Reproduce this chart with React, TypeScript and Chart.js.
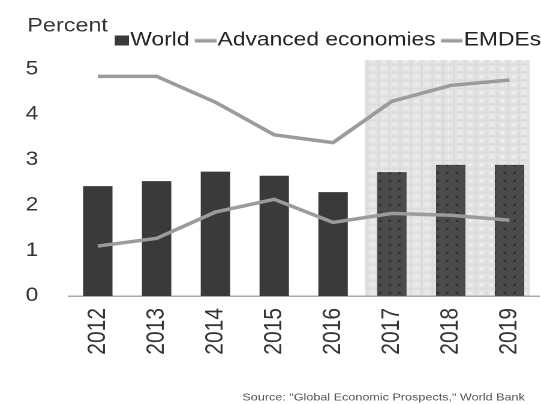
import React, { useEffect, useRef } from "react";
import { Chart, registerables } from "chart.js";

Chart.register(...registerables);

const years = ["2012", "2013", "2014", "2015", "2016", "2017", "2018", "2019"];
const worldValues = [2.42, 2.53, 2.74, 2.65, 2.29, 2.73, 2.89, 2.89];
const advancedValues = [1.1, 1.27, 1.85, 2.13, 1.62, 1.82, 1.78, 1.67];
const emdeValues = [4.84, 4.84, 4.27, 3.55, 3.38, 4.29, 4.64, 4.76];
const forecastStartIndex = 5;
const yTicks = [0, 1, 2, 3, 4, 5];

const FONT = "'Liberation Sans', Arial, sans-serif";
const STRETCH = 541 / 451;
const LINE_GRAY = "#9b9b9b";
const BAR_DARK = "#3a3a3a";

function makeTile(w: number, h: number, draw: (c: CanvasRenderingContext2D) => void) {
  const cv = document.createElement("canvas");
  cv.width = w;
  cv.height = h;
  const c = cv.getContext("2d")!;
  draw(c);
  return cv;
}

export default function App() {
  const ref = useRef<HTMLCanvasElement | null>(null);

  useEffect(() => {
    if (!ref.current) return;
    const ctx = ref.current.getContext("2d")!;

    const bgTile = makeTile(9, 8, (c) => {
      c.fillStyle = "#e4e4e4";
      c.fillRect(0, 0, 9, 8);
      c.fillStyle = "#d8d8d8";
      c.fillRect(0, 0, 9, 1);
      c.fillRect(0, 0, 1, 8);
      c.fillStyle = "#f6f6f6";
      c.fillRect(4, 4, 2, 2);
    });
    const bgPattern = ctx.createPattern(bgTile, "repeat")!;

    const barTile = makeTile(8, 8, (c) => {
      c.fillStyle = "#4b4b4b";
      c.fillRect(0, 0, 8, 8);
      c.fillStyle = "#2c2c2c";
      c.fillRect(4, 4, 2, 2);
    });
    const barPattern = ctx.createPattern(barTile, "repeat")!;

    // legend markers: image centred at boxWidth/2, marker pushed to the right end so it hugs the text
    const rectMarker = makeTile(31, 10, (c) => {
      c.fillStyle = BAR_DARK;
      c.fillRect(19, 0, 12, 10);
    });
    const lineMarker = makeTile(31, 10, (c) => {
      c.fillStyle = LINE_GRAY;
      c.fillRect(13, 3.5, 18, 3.5);
    });

    const barColors = worldValues.map((_, i) => (i >= forecastStartIndex ? barPattern : BAR_DARK));

    const decorPlugin = {
      id: "decor",
      beforeDraw(chart: any) {
        const c = chart.ctx;
        const xs = chart.scales.x;
        const ys = chart.scales.y;
        c.save();
        c.fillStyle = "#ffffff";
        c.fillRect(0, 0, chart.width, chart.height);
        const cw = xs.getPixelForValue(1) - xs.getPixelForValue(0);
        const left = xs.getPixelForValue(forecastStartIndex) - 0.46 * cw;
        const right = xs.getPixelForValue(years.length - 1) + 0.34 * cw;
        const top = ys.getPixelForValue(5.2);
        const bottom = ys.getPixelForValue(0);
        c.fillStyle = bgPattern;
        c.fillRect(left, top, right - left, bottom - top);
        c.restore();
      },
      afterDraw(chart: any) {
        const c = chart.ctx;
        c.save();
        c.fillStyle = "#333333";
        c.font = `19.5px ${FONT}`;
        c.textAlign = "left";
        c.textBaseline = "alphabetic";
        c.fillText("Percent", 22.75, 31.7);
        c.fillStyle = "#555555";
        c.font = `10.5px ${FONT}`;
        c.textAlign = "right";
        c.fillText('Source: "Global Economic Prospects," World Bank', 437.5, 400.5);
        c.restore();
      },
    };

    const chart = new Chart(ctx, {
      type: "bar",
      data: {
        labels: years,
        datasets: [
          {
            type: "bar",
            label: "World",
            data: worldValues,
            backgroundColor: barColors as any,
            borderWidth: 0,
            categoryPercentage: 1,
            barPercentage: 0.5,
            order: 2,
          },
          {
            type: "line",
            label: "Advanced economies",
            data: advancedValues,
            borderColor: LINE_GRAY,
            backgroundColor: LINE_GRAY,
            borderWidth: 3.5,
            pointRadius: 0,
            tension: 0,
            fill: false,
            order: 1,
          },
          {
            type: "line",
            label: "EMDEs",
            data: emdeValues,
            borderColor: LINE_GRAY,
            backgroundColor: LINE_GRAY,
            borderWidth: 3.5,
            pointRadius: 0,
            tension: 0,
            fill: false,
            order: 1,
          },
        ] as any,
      },
      options: {
        animation: false,
        responsive: true,
        maintainAspectRatio: false,
        devicePixelRatio: 2,
        layout: { padding: { top: 31, left: 0, right: 0, bottom: 0 } },
        plugins: {
          tooltip: { enabled: false },
          title: { display: false },
          legend: {
            display: true,
            position: "top",
            align: "end",
            labels: {
              font: { size: 19, family: FONT },
              color: "#222222",
              usePointStyle: true,
              pointStyleWidth: 14,
              boxHeight: 10,
              padding: 0,
              generateLabels: (ch: any) =>
                ch.data.datasets.map((ds: any, i: number) => ({
                  text: ds.label,
                  datasetIndex: i,
                  fillStyle: i === 0 ? BAR_DARK : LINE_GRAY,
                  strokeStyle: i === 0 ? BAR_DARK : LINE_GRAY,
                  lineWidth: 0,
                  pointStyle: i === 0 ? rectMarker : lineMarker,
                  hidden: false,
                  fontColor: "#222222",
                })),
            },
          },
        },
        scales: {
          x: {
            type: "category",
            offset: true,
            grid: { display: false },
            border: { display: true, color: "#aaaaaa", width: 1.5 },
            afterFit: (scale: any) => {
              scale.height = 108;
              scale.paddingLeft = 0;
              scale.paddingRight = 0;
              scale.paddingTop = 0;
              scale.paddingBottom = 0;
            },
            ticks: {
              minRotation: 90,
              maxRotation: 90,
              padding: 4,
              color: "#333333",
              font: { size: 21, family: FONT },
            },
          },
          y: {
            min: 0,
            max: 5.2,
            grid: { display: false },
            border: { display: false },
            afterBuildTicks: (scale: any) => {
              scale.ticks = yTicks.map((v) => ({ value: v }));
            },
            afterFit: (scale: any) => {
              scale.width = 57;
              scale.paddingLeft = 0;
              scale.paddingRight = 0;
              scale.paddingTop = 0;
              scale.paddingBottom = 0;
            },
            ticks: {
              stepSize: 1,
              padding: 17,
              color: "#333333",
              font: { size: 19, family: FONT },
            },
          },
        },
      } as any,
      plugins: [decorPlugin],
    });

    return () => chart.destroy();
  }, []);

  return (
    <div
      style={{
        position: "fixed",
        left: 0,
        top: 0,
        width: 541,
        height: 404,
        overflow: "hidden",
        background: "#ffffff",
      }}
    >
      <div
        style={{
          width: 451,
          height: 404,
          transform: `scaleX(${STRETCH})`,
          transformOrigin: "0 0",
        }}
      >
        <canvas ref={ref} />
      </div>
    </div>
  );
}
